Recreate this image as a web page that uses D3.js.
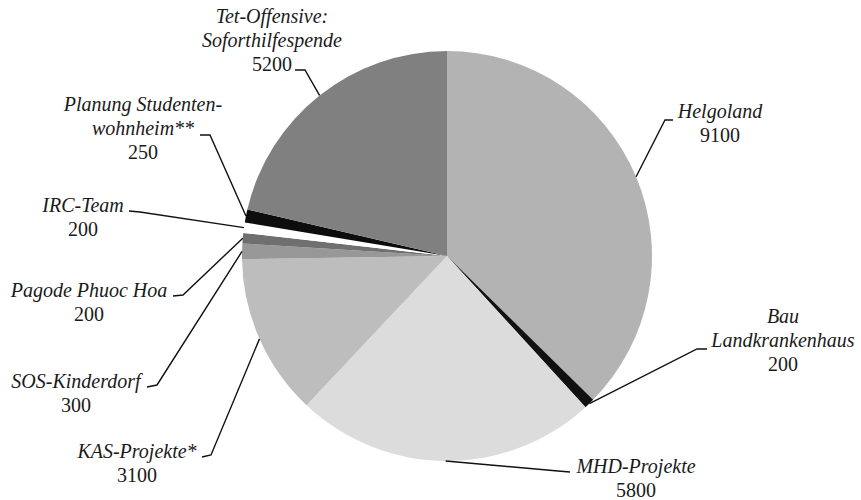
<!DOCTYPE html>
<html>
<head>
<meta charset="utf-8">
<script src="https://cdn.jsdelivr.net/npm/d3@7"></script>
<style>
  html, body { margin: 0; padding: 0; background: #fff; }
  svg { display: block; }
  text.lbl {
    font-family: "Liberation Serif", "Times New Roman", Times, "Tinos", "Nimbus Roman",
                 "Noto Serif", "DejaVu Serif", "FreeSerif", serif;
    font-size: 20px;
    fill: #1a1a1a;
  }
  text.lbl.name { font-style: italic; }
</style>
</head>
<body>
<svg id="chart" width="861" height="500"></svg>
<script>
// Donation projects and amounts
const categories = [
  "Helgoland",
  "Bau Landkrankenhaus",
  "MHD-Projekte",
  "KAS-Projekte*",
  "SOS-Kinderdorf",
  "Pagode Phuoc Hoa",
  "IRC-Team",
  "Planung Studentenwohnheim**",
  "Tet-Offensive: Soforthilfespende"
];
const values = [9100, 200, 5800, 3100, 300, 200, 200, 250, 5200];

// Label text, one row per line (the amount row is appended from values)
const labelLines = [
  ["Helgoland"],
  ["Bau", "Landkrankenhaus"],
  ["MHD-Projekte"],
  ["KAS-Projekte*"],
  ["SOS-Kinderdorf"],
  ["Pagode Phuoc Hoa"],
  ["IRC-Team"],
  ["Planung Studenten-", "wohnheim**"],
  ["Tet-Offensive:", "Soforthilfespende"]
];

// Slice fills
const fills = ["#b3b3b3", "#111111", "#dcdcdc", "#bdbdbd", "#989898",
               "#6f6f6f", "#ffffff", "#0d0d0d", "#808080"];

// Label layout: text column centre, first baseline, and leader elbow / end
const labelLayout = [
  { cx: 720, y0: 118, elbow: [665, 120], end: [673, 120] },
  { cx: 783, y0: 323, elbow: [697, 349], end: [707, 349] },
  { cx: 636, y0: 473, elbow: [558, 471], end: [570, 472] },
  { cx: 137, y0: 458, elbow: [211, 455], end: [202, 457] },
  { cx: 76,  y0: 388, elbow: [157, 385], end: [147, 387] },
  { cx: 89,  y0: 297, elbow: [183, 295], end: [173, 296] },
  { cx: 83,  y0: 212, elbow: [140, 212], end: [129, 211] },
  { cx: 143, y0: 111, elbow: [210, 135], end: [200, 135] },
  { cx: 272, y0: 23,  elbow: [305, 70],  end: [295, 70] }
];

const cx = 447, cy = 256, radius = 205, lineGap = 24;

const svg = d3.select("#chart");
const g = svg.append("g").attr("transform", `translate(${cx},${cy})`);

const pie = d3.pie().sort(null).value(d => d);
const arcs = pie(values);
const arc = d3.arc().innerRadius(0).outerRadius(radius);

g.selectAll("path.slice")
  .data(arcs)
  .join("path")
  .attr("class", "slice")
  .attr("d", arc)
  .attr("fill", (d, i) => fills[i]);

// Leader lines from the outer edge of each slice
const edge = d3.arc().innerRadius(radius).outerRadius(radius);
svg.selectAll("path.leader")
  .data(arcs)
  .join("path")
  .attr("class", "leader")
  .attr("fill", "none")
  .attr("stroke", "#111")
  .attr("stroke-width", 1.4)
  .attr("d", (d, i) => {
    const [x, y] = edge.centroid(d);
    const L = labelLayout[i];
    return d3.line()([[cx + x, cy + y], L.elbow, L.end]);
  });

// Labels: italic project name rows, then the amount
arcs.forEach((d, i) => {
  const L = labelLayout[i];
  const rows = labelLines[i];
  const t = svg.append("g").attr("text-anchor", "middle");
  rows.forEach((r, k) => {
    t.append("text")
      .attr("class", "lbl name")
      .attr("x", L.cx).attr("y", L.y0 + k * lineGap)
      .text(r);
  });
  t.append("text")
    .attr("class", "lbl")
    .attr("x", L.cx).attr("y", L.y0 + rows.length * lineGap)
    .text(d3.format("d")(values[i]));
});
</script>
</body>
</html>
